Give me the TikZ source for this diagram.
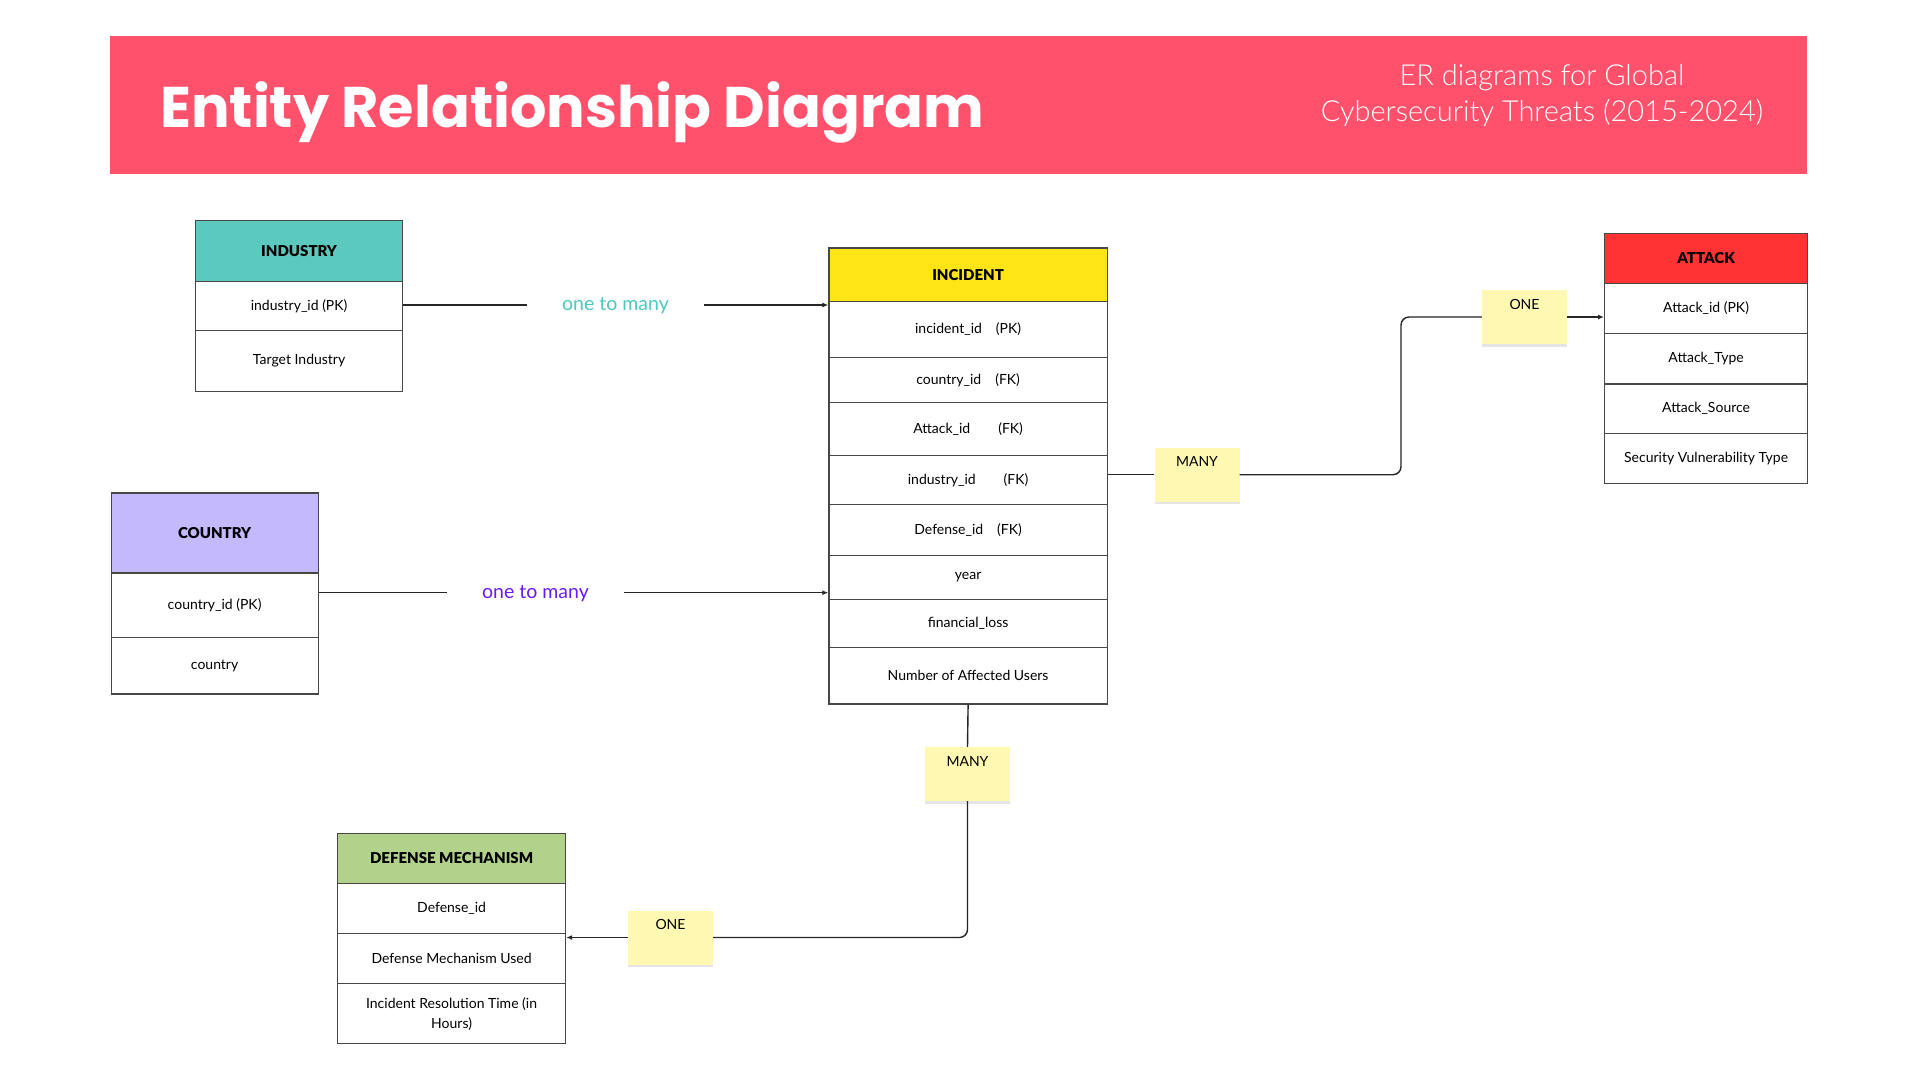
\documentclass[tikz,border=0pt]{standalone}
\usepackage{fontspec}
\usetikzlibrary{arrows.meta,shadows}
\setmainfont{Lato}
\newfontfamily\titlefont{Poppins}
\IfFontExistsTF{Lato Light}{\newfontfamily\lightfont{Lato Light}}{\newfontfamily\lightfont{Lato}}
\IfFontExistsTF{Lato Black}{\newfontfamily\headfont{Lato Black}}{\newfontfamily\headfont{Lato}[UprightFont=*-Bold]}
\definecolor{bannerpink}{HTML}{FF516B}
\definecolor{indteal}{HTML}{5BC9BD}
\definecolor{ctylav}{HTML}{C4B9FD}
\definecolor{incyel}{HTML}{FFE515}
\definecolor{attred}{HTML}{FF3333}
\definecolor{defgreen}{HTML}{B2D28B}
\definecolor{notey}{HTML}{FEF8B3}
\definecolor{tealtxt}{HTML}{4CC9BC}
\definecolor{purptxt}{HTML}{6A1BF4}
\definecolor{boxline}{HTML}{474747}
\begin{document}
\begin{tikzpicture}[x=1pt, y=-1pt]
    \tikzset{>={Latex[length=6pt,width=5pt]}}
    \tikzset{
      fld/.style={draw=boxline, line width=1.2pt, fill=white, anchor=north west,
        inner sep=0pt, align=center, font=\fontsize{14}{20}\selectfont},
      hdr/.style={fld, font=\headfont\fontsize{15}{18}\selectfont},
      note/.style={fill=notey, inner xsep=0pt, inner ysep=2pt, minimum width=85pt,
        minimum height=54pt, text height=17pt, text depth=33pt,
        font=\fontsize{14}{16}\selectfont,
        drop shadow={shadow xshift=0pt, shadow yshift=-2.5pt, fill=black!10, opacity=1}},
      reltxt/.style={inner sep=0pt, minimum width=177pt, font=\fontsize{19.5}{24}\selectfont},
      conn/.style={draw=black!85, line width=1.4pt}
    }
    \useasboundingbox[fill=white] (0,0) rectangle (1920,1080);
    % banner
    \fill[bannerpink] (110,35.5) rectangle (1807,173.5);
    \node[anchor=base west, inner sep=0pt, text=white,
      font=\titlefont\bfseries\fontsize{57.3}{64}\selectfont] (title) at (160,127) {Entity Relationship Diagram};
    \node[anchor=base, inner sep=0pt, text=white, font=\lightfont\fontsize{29}{34}\selectfont] (sub1) at (1542,85) {ER diagrams for Global};
    \node[anchor=base, inner sep=0pt, text=white, font=\lightfont\fontsize{29}{34}\selectfont] (sub2) at (1542,121.7) {Cybersecurity Threats (2015-2024)};

    % INDUSTRY
    \node[hdr, fill=indteal, minimum width=207pt, minimum height=61pt] (ind0) at (195,219.7) {INDUSTRY};
    \node[fld, minimum width=207pt, minimum height=49.3pt] (ind1) at (195,280.7) {industry\_id (PK)};
    \node[fld, minimum width=207pt, minimum height=61pt] (ind2) at (195,330) {Target Industry};

    % COUNTRY
    \node[hdr, fill=ctylav, minimum width=207pt, minimum height=80pt] (cty0) at (110.5,492.3) {COUNTRY};
    \node[fld, minimum width=207pt, minimum height=64.4pt] (cty1) at (110.5,572.3) {country\_id (PK)};
    \node[fld, minimum width=207pt, minimum height=56.6pt] (cty2) at (110.5,636.7) {country};

    % INCIDENT
    \node[hdr, fill=incyel, minimum width=278.4pt, minimum height=53.7pt] (inc0) at (828.3,247.3) {INCIDENT};
    \node[fld, minimum width=278.4pt, minimum height=55.7pt] (inc1) at (828.3,301) {incident\_id\quad(PK)};
    \node[fld, minimum width=278.4pt, minimum height=45.3pt] (inc2) at (828.3,356.7) {country\_id\quad(FK)};
    \node[fld, minimum width=278.4pt, minimum height=53pt] (inc3) at (828.3,402) {Attack\_id\qquad(FK)};
    \node[fld, minimum width=278.4pt, minimum height=49pt] (inc4) at (828.3,455) {industry\_id\qquad(FK)};
    \node[fld, minimum width=278.4pt, minimum height=50.7pt] (inc5) at (828.3,504) {Defense\_id\quad(FK)};
    \node[fld, minimum width=278.4pt, minimum height=44pt] (inc6) at (828.3,554.7) {year};
    \node[fld, minimum width=278.4pt, minimum height=48pt] (inc7) at (828.3,598.7) {financial\_loss};
    \node[fld, minimum width=278.4pt, minimum height=56.6pt] (inc8) at (828.3,646.7) {Number of Affected Users};

    % ATTACK
    \node[hdr, fill=attred, minimum width=203pt, minimum height=50.2pt] (att0) at (1604,232.7) {ATTACK};
    \node[fld, minimum width=203pt, minimum height=50.1pt] (att1) at (1604,282.9) {Attack\_id (PK)};
    \node[fld, minimum width=203pt, minimum height=50.3pt] (att2) at (1604,333) {Attack\_Type};
    \node[fld, minimum width=203pt, minimum height=49.3pt] (att3) at (1604,383.3) {Attack\_Source};
    \node[fld, minimum width=203pt, minimum height=50.2pt] (att4) at (1604,432.6) {Security Vulnerability Type};

    % DEFENSE MECHANISM
    \node[hdr, fill=defgreen, minimum width=228pt, minimum height=50pt] (def0) at (337,832.7) {DEFENSE MECHANISM};
    \node[fld, minimum width=228pt, minimum height=50pt] (def1) at (337,882.7) {Defense\_id};
    \node[fld, minimum width=228pt, minimum height=50.3pt] (def2) at (337,932.7) {Defense Mechanism Used};
    \node[fld, minimum width=228pt, minimum height=60pt] (def3) at (337,983) {Incident Resolution Time (in\\Hours)};

    % relation labels and sticky notes
    \node[reltxt, text=tealtxt] (rel1) at (615.5,306) {one to many};
    \node[reltxt, text=purptxt] (rel2) at (535.5,593.5) {one to many};
    \node[note] (many1) at (1197,474.7) {MANY};
    \node[note] (one1) at (1524.5,317) {ONE};
    \node[note] (many2) at (967.5,774) {MANY};
    \node[note] (one2) at (670.5,937.5) {ONE};
    \coordinate (bendA) at (1401,0);

    % connectors
    \draw[conn] (ind1.east |- 0,305) -- (rel1.west |- 0,305);
    \draw[conn,->] (rel1.east |- 0,305) -- (inc1.west |- 0,305);
    \draw[conn] (cty1.east |- 0,592.7) -- (rel2.west |- 0,592.7);
    \draw[conn,->] (rel2.east |- 0,592.7) -- (inc6.west |- 0,592.7);
    \draw[conn] (inc4.east |- many1.west) -- (many1.west);
    \draw[conn, rounded corners=8pt] (many1.east) -- (bendA |- many1.east) -- (bendA |- one1.west) -- (one1.west);
    \draw[conn,->] (one1.east) -- (one1.east -| att1.west);
    \draw[conn] (inc8.south) -- (many2.north);
    \draw[conn, rounded corners=8pt] (many2.south) |- (one2.east);
    \draw[conn,->] (one2.west) -- (one2.west -| def2.east);
\end{tikzpicture}
\end{document}
